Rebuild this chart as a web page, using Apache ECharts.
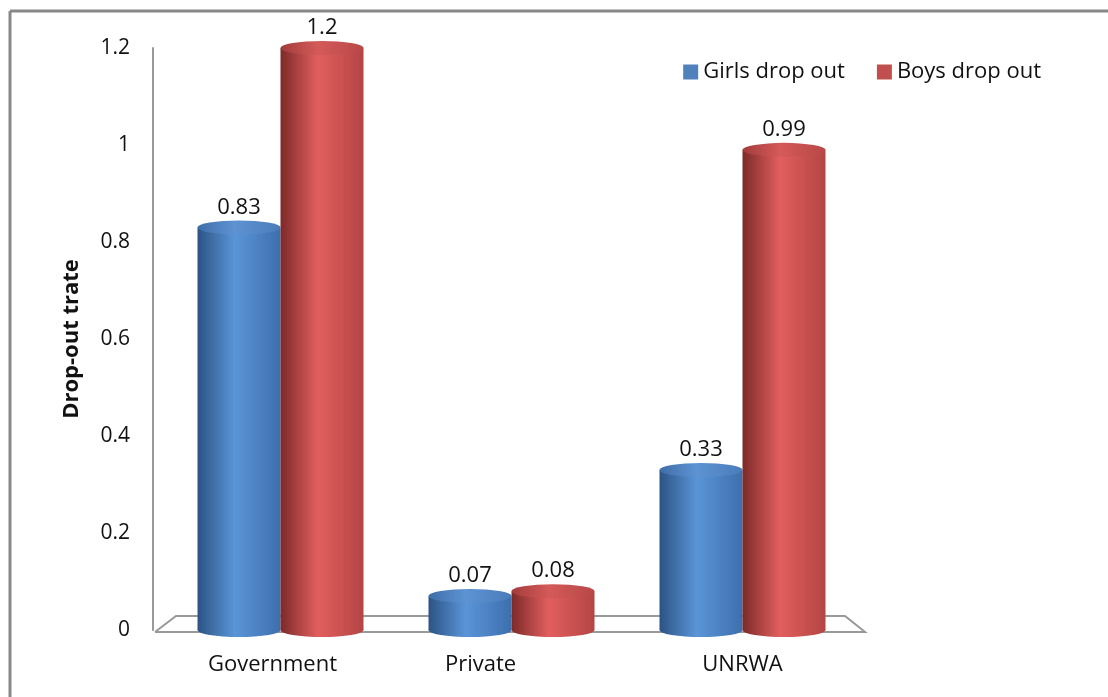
<!DOCTYPE html>
<html>
<head>
<meta charset="utf-8">
<script src="https://cdn.jsdelivr.net/npm/echarts@6/dist/echarts.min.js"></script>
<style>
  html, body { margin: 0; padding: 0; background: #fff; }
  #chart { width: 1108px; height: 697px; }
</style>
</head>
<body>
<div id="chart"></div>
<script>
// data
var categories = ['Government', 'Private', 'UNRWA']
var girls = [0.83, 0.07, 0.33]
var boys = [1.2, 0.08, 0.99]
var seriesNames = ['Girls drop out', 'Boys drop out']

var font = 'Open Sans'
var barW = 83
var chart = echarts.init(document.getElementById('chart'))

function shade(dark, light, mid) {
  return new echarts.graphic.LinearGradient(0, 0, 1, 0, [
    { offset: 0, color: dark },
    { offset: 0.45, color: light },
    { offset: 1, color: mid }
  ])
}
var blueBody = shade('#2c5384', '#5a95d8', '#3d6fae')
var redBody = shade('#7c2a29', '#e15f5e', '#b44543')
var blueTop = shade('#3f6ea8', '#5d93d3', '#4a7cba')
var redTop = shade('#a23c3b', '#d45a59', '#b84847')

function bar(name, data, color) {
  return {
    name: name,
    type: 'bar',
    data: data,
    barWidth: barW,
    barGap: '0%',
    itemStyle: { color: color },
    label: {
      show: true,
      position: 'top',
      distance: 9,
      fontFamily: font,
      fontSize: 22,
      color: '#111'
    }
  }
}
// ellipse caps of the cylinders, one series per end
function cap(data, color, pos, side) {
  return {
    type: 'pictorialBar',
    data: data,
    barWidth: barW,
    barGap: '-100%',
    symbol: 'circle',
    symbolSize: [barW, 14],
    symbolPosition: pos,
    symbolOffset: [side * barW / 2, pos === 'end' ? '-50%' : '50%'],
    itemStyle: { color: color },
    z: pos === 'end' ? 3 : 1,
    silent: true
  }
}

chart.setOption({
  animation: false,
  textStyle: { fontFamily: font },
  graphic: [
    { type: 'line', shape: { x1: 10, y1: 11, x2: 1108, y2: 11 }, style: { stroke: '#888', lineWidth: 3 } },
    { type: 'line', shape: { x1: 10, y1: 11, x2: 10, y2: 697 }, style: { stroke: '#888', lineWidth: 3 } },
    {
      type: 'polyline', z: 0,
      shape: { points: [[155, 632], [176, 616], [845, 616], [865, 632], [155, 632]] },
      style: { stroke: '#999', lineWidth: 2, fill: 'none' }
    }
  ],
  legend: {
    data: [
      { name: seriesNames[0], itemStyle: { color: '#4f81bd' } },
      { name: seriesNames[1], itemStyle: { color: '#c0504d' } }
    ],
    top: 56,
    right: 62,
    itemWidth: 15,
    itemHeight: 15,
    itemGap: 32,
    icon: 'rect',
    textStyle: { fontFamily: font, fontSize: 22, color: '#111' }
  },
  grid: { left: 165, right: 250, top: 48, bottom: 67 },
  xAxis: {
    type: 'category',
    data: [
      { value: categories[0], textStyle: { padding: [0, 16, 0, 0] } },
      { value: categories[1], textStyle: { padding: [0, 62, 0, 0] } },
      { value: categories[2] }
    ],
    axisLine: { show: false },
    axisTick: { show: false },
    axisLabel: { margin: 24, fontFamily: font, fontSize: 22, color: '#111' }
  },
  yAxis: {
    type: 'value',
    min: 0,
    max: 1.2,
    interval: 0.2,
    offset: 12,
    name: 'Drop-out trate',
    nameLocation: 'middle',
    nameGap: 70,
    nameTextStyle: { fontFamily: font, fontSize: 22, fontWeight: 'bold', color: '#111' },
    axisLine: { show: true, lineStyle: { color: '#999', width: 2 } },
    axisTick: { show: false },
    splitLine: { show: false },
    axisLabel: { margin: 23, fontFamily: font, fontSize: 21, color: '#111' }
  },
  series: [
    bar(seriesNames[0], girls, blueBody),
    bar(seriesNames[1], boys, redBody),
    cap(girls, blueTop, 'end', -1),
    cap(boys, redTop, 'end', 1),
    cap(girls, blueBody, 'start', -1),
    cap(boys, redBody, 'start', 1)
  ]
})
</script>
</body>
</html>
